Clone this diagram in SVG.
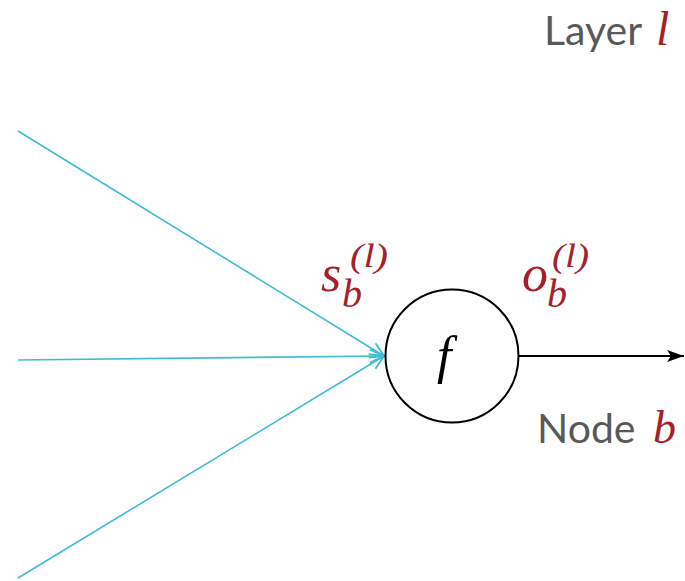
<svg xmlns="http://www.w3.org/2000/svg" width="685" height="581" viewBox="0 0 685 581">
<style>
.lbl{font-family:Lato,"Open Sans","Liberation Sans",sans-serif;fill:#595959;font-size:41px}
.m{font-family:"Liberation Serif","DejaVu Serif",serif;font-style:italic;fill:#A5202A}
.in{stroke:#3EBCD2;stroke-width:1.6;fill:none}
</style>
<defs>
<marker id="vee" markerUnits="userSpaceOnUse" markerWidth="20" markerHeight="16" refX="16" refY="8" orient="auto" viewBox="0 0 20 16">
<path d="M2 1.5 L16 8 L2 14.5" fill="none" stroke="#3EBCD2" stroke-width="1.8"/>
</marker>
<marker id="stealth" markerUnits="userSpaceOnUse" markerWidth="18" markerHeight="14" refX="17" refY="7" orient="auto" viewBox="0 0 18 14">
<path d="M0 1 L17 7 L0 13 L4 7 Z" fill="#000"/>
</marker>
</defs>
<g id="connectors">
<line class="in" x1="18" y1="131" x2="384" y2="356" marker-end="url(#vee)"/>
<line class="in" x1="18" y1="360" x2="384" y2="356" marker-end="url(#vee)"/>
<line class="in" x1="18" y1="578" x2="384" y2="356" marker-end="url(#vee)"/>
<line x1="519" y1="356" x2="684" y2="356" stroke="#000" stroke-width="2" marker-end="url(#stealth)"/>
</g>
<g id="node-b">
<circle cx="452" cy="356" r="66.5" fill="#fff" stroke="#000" stroke-width="2"/>
<text class="m" x="437" y="373" style="fill:#000" font-size="52">f</text>
</g>
<g id="label-s">
<text class="m" x="321" y="291" font-size="52">s</text>
<text class="m" x="342" y="307" font-size="40">b</text>
<text class="m" x="350" y="267" font-size="34" textLength="38" lengthAdjust="spacingAndGlyphs">(l)</text>
</g>
<g id="label-o">
<text class="m" x="522" y="291" font-size="52">o</text>
<text class="m" x="547" y="307" font-size="40">b</text>
<text class="m" x="552" y="267" font-size="34" textLength="37" lengthAdjust="spacingAndGlyphs">(l)</text>
</g>
<g id="layer-label">
<text class="lbl" x="544" y="45">Layer</text>
<text class="m" x="656" y="45" font-size="48">l</text>
</g>
<g id="node-label">
<text class="lbl" x="537" y="443">Node</text>
<text class="m" x="653" y="443" font-size="46">b</text>
</g>
</svg>
